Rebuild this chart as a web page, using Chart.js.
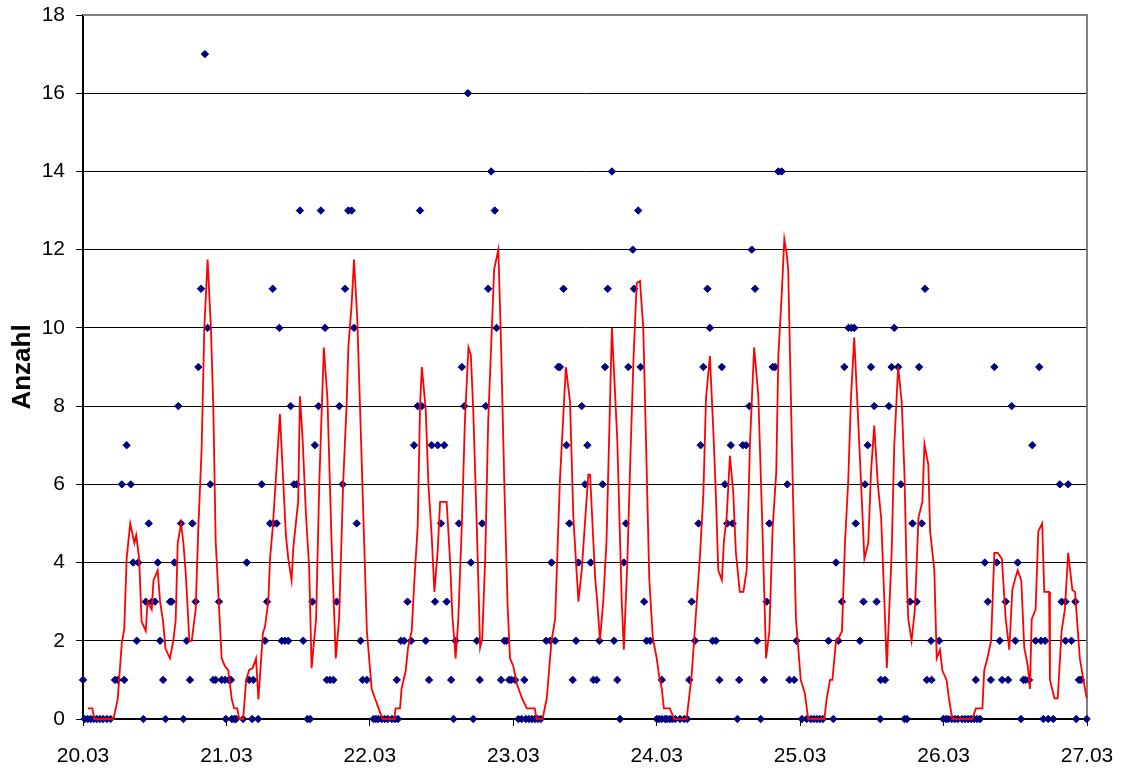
<!DOCTYPE html>
<html>
<head>
<meta charset="utf-8">
<script src="https://cdn.jsdelivr.net/npm/chart.js@4"></script>
<style>
  body { margin: 0; background: #fff; }
  #wrap { width: 1127px; height: 769px; }
</style>
</head>
<body>
<div id="wrap"><canvas id="chart" width="1127" height="769"></canvas></div>
<script>
// x axis runs in hours from 20.03 00:00
const dayLabels = ['20.03', '21.03', '22.03', '23.03', '24.03', '25.03', '26.03', '27.03'];

// single observations (Anzahl)
const pointHours = [
  0,0.3,0.8,1.3,1.8,2.3,2.8,3.35,4.0,4.6,5.35,5.8,6.5,6.9,7.3,8.0,8.4,9.0,9.25,10.1,
  10.5,11.0,11.5,12.05,12.5,12.9,13.4,13.8,14.55,14.85,15.3,15.95,16.4,16.8,17.35,17.9,18.3,18.85,19.3,19.75,
  20.4,20.85,21.3,21.8,22.2,22.75,23.2,23.75,23.9,
  24.4,24.75,24.9,25.3,25.6,26.8,27.4,27.8,28.3,28.5,29.3,29.9,30.45,30.8,31.3,31.75,31.85,32.4,32.85,33.25,
  33.8,34.35,34.75,35.3,35.75,36.3,36.85,37.55,38.0,38.4,38.8,39.4,39.8,40.5,40.8,41.35,41.9,42.45,42.9,43.45,
  43.85,44.4,44.95,45.35,45.8,46.45,46.8,47.5,48.6,49.0,49.4,
  50.0,50.5,51.0,51.7,52.2,52.5,52.7,53.2,53.75,54.3,54.9,55.4,56.0,56.4,56.7,57.35,57.9,58.35,58.9,59.35,
  59.9,60.45,60.85,61.6,62.0,62.35,62.9,63.4,63.8,64.4,64.9,65.3,65.9,66.4,66.8,67.4,67.8,68.3,68.9,69.2,
  69.95,70.5,70.9,71.3,71.7,72.3,72.85,73.4,73.85,
  74.1,74.6,75.1,75.6,76.1,76.6,77.5,78.2,78.4,79.0,79.5,79.8,80.4,80.9,81.4,81.95,82.5,82.9,83.45,84.0,
  84.4,84.95,85.4,85.95,86.4,86.95,87.35,87.8,88.5,88.85,89.4,89.85,90.5,90.85,91.25,92.0,92.2,92.9,93.3,93.9,
  94.3,94.9,96.0,96.4,96.85,96.85,
  97.4,97.7,98.2,98.6,99.1,99.9,100.6,101.1,101.45,101.85,102.4,103.0,103.35,103.8,104.5,104.9,105.35,105.9,106.5,106.9,
  107.4,107.8,108.4,108.7,109.5,109.8,110.4,110.95,111.5,111.9,112.45,112.8,113.4,113.95,114.4,114.85,115.4,115.8,116.35,116.9,
  117.85,118.2,119.0,119.4,120.3,121.1,
  121.8,122.3,122.8,123.3,123.8,124.75,125.55,126.0,126.4,127.0,127.4,128.1,128.6,129.05,129.3,130.0,130.6,130.85,131.3,131.85,
  132.4,132.8,133.4,133.5,134.2,134.85,135.3,135.75,136.4,136.85,137.45,137.85,138.4,138.8,139.5,139.9,140.35,140.9,141.2,141.9,
  142.0,143.25,143.95,144.8,
  144.4,145.4,145.9,146.4,147.1,147.6,148.1,148.6,149.1,149.4,149.6,150.1,150.9,151.4,151.9,152.5,152.9,153.4,153.8,154.4,
  154.8,155.4,156.0,156.4,156.95,157.35,157.7,158.3,158.85,159.4,160.0,160.3,160.7,161.0,161.5,162.35,163.45,163.75,164.4,164.4,
  164.85,165.4,166.05,166.2,166.65,167.0,167.95
];
const pointCounts = [
  1,0,0,0,0,0,0,0,0,0,1,1,6,1,7,6,4,2,4,0,
  3,5,3,3,4,2,1,0,3,3,4,8,5,0,2,1,5,3,9,11,
  17,10,6,1,1,3,1,1,0,
  1,1,0,0,0,0,4,1,0,1,0,6,2,3,5,11,5,5,10,2,
  2,2,8,6,6,13,2,0,0,3,7,8,13,10,1,1,1,3,8,6,
  11,13,13,10,5,2,1,1,0,0,0,
  0,0,0,0,0,1,0,2,2,3,2,7,8,13,8,2,1,7,3,7,
  5,7,3,1,0,2,5,9,8,16,4,0,2,1,5,8,11,14,13,10,
  1,2,2,1,1,1,0,0,1,
  0,0,0,0,0,0,2,2,4,2,9,9,11,7,5,1,2,4,8,6,
  7,4,1,1,2,6,9,11,14,2,1,0,4,5,9,12,11,13,9,3,
  2,2,0,0,1,0,
  0,0,0,0,0,0,0,0,1,3,2,5,7,9,11,10,2,2,1,9,
  6,5,7,5,0,1,7,7,8,12,11,2,0,1,3,5,9,9,14,14,
  6,1,1,2,0,0,
  0,0,0,0,0,2,0,4,2,3,9,10,10,10,5,2,3,6,7,9,
  8,3,0,1,1,8,9,10,9,6,0,0,3,5,3,9,5,11,1,2,
  1,2,0,0,
  0,0,0,0,0,0,0,0,0,1,0,0,4,3,1,9,4,2,1,3,
  1,8,2,4,0,1,1,1,7,2,9,2,0,2,0,0,6,3,3,2,
  6,2,3,0,1,1,0
];

// moving average line (red)
const avgHours = [
  0.8,1.55,1.9,5.1,5.8,6.5,6.9,7.3,7.9,8.6,8.9,9.4,9.8,10.5,10.8,11.5,11.8,12.5,12.9,13.4,
  13.8,14.55,15.1,15.5,15.85,16.4,16.8,17.2,17.8,18.2,18.85,19.3,19.85,20.3,20.85,21.4,21.8,22.2,23.2,23.75,
  24.3,24.9,25.3,25.8,26.15,26.8,27.3,27.8,28.4,28.95,29.35,30.1,30.45,31.0,31.3,31.75,32.4,32.95,33.5,33.95,
  34.35,34.9,35.2,36.0,36.3,36.75,37.3,37.85,38.25,39.0,39.55,40.3,40.9,41.6,42.3,42.85,43.55,44.1,44.4,44.95,
  45.35,45.9,46.35,46.9,47.5,48.3,48.85,49.55,50.1,52.1,52.3,53.05,53.3,54.0,54.4,55.0,55.45,56.0,56.4,56.7,
  57.35,57.8,58.35,58.8,59.35,59.75,60.85,61.4,61.8,62.35,62.8,63.4,63.9,64.5,64.9,65.3,65.9,66.45,66.8,67.3,
  67.8,68.8,69.5,69.95,70.5,71.05,71.45,72.0,72.6,73.4,74.25,75.6,75.9,76.9,77.6,78.4,79.0,79.8,80.8,81.5,
  82.05,82.9,83.45,84.55,84.85,85.7,86.05,86.5,87.05,87.6,88.5,89.4,90.15,90.5,91.1,91.55,92.1,92.65,93.2,93.75,
  94.2,94.75,95.35,96.0,96.45,96.85,97.2,98.2,98.9,101.0,101.85,102.6,103.25,103.8,104.25,104.9,105.5,105.9,106.3,106.9,
  107.25,107.7,108.25,108.8,109.25,109.9,110.5,111.05,111.6,112.3,113.0,113.75,114.3,114.85,115.4,116.0,116.35,116.9,117.35,117.75,
  118.0,118.75,119.3,120.1,120.8,121.35,124.05,124.45,125.0,125.4,126.0,126.4,127.0,127.5,128.05,128.5,129.05,129.6,130.2,130.75,
  131.4,131.85,132.4,133.0,133.55,134.1,134.5,135.3,135.75,136.4,137.0,137.45,137.85,138.1,138.65,139.2,139.8,140.45,140.8,141.45,
  141.75,142.45,142.85,143.4,143.8,144.5,144.9,145.45,148.8,149.4,150.5,150.8,151.4,151.95,152.5,153.05,153.75,154.4,155.0,155.5,
  156.0,156.4,157.0,157.5,158.1,158.45,158.75,159.4,159.85,160.5,160.85,161.65,161.8,162.55,163.1,163.75,164.3,164.85,165.55,166.0,
  166.8,167.4,167.95
];
const avgValues = [
  0.27,0.27,0,0,0.5,1.95,2.3,4.1,5.0,4.5,4.7,4.1,2.5,2.25,3.0,2.8,3.55,3.8,3.0,2.5,
  1.8,1.55,2.0,2.5,4.5,5.0,4.5,3.7,2.0,2.0,2.8,4.9,6.9,10,11.75,10,8,4.55,1.55,1.35,
  1.25,0.5,0.27,0.27,0,0,1.0,1.25,1.3,1.55,0.5,2.2,2.35,3.0,4.1,4.9,6.45,7.8,6.1,4.7,
  4.1,3.55,4.4,5.55,8.25,7.15,5.25,3.85,1.3,2.55,6.1,9.5,8.2,4.5,1.55,2.55,6.1,8.0,9.5,10.6,
  11.75,10.2,8.0,5.25,2.25,0.77,0.53,0.24,0,0,0.27,0.27,0.77,1.24,1.83,2.25,3.55,4.9,8.0,9.0,
  7.9,6.0,4.67,3.25,4.3,5.55,5.55,4.1,2.66,1.55,2.55,5.0,7.6,9.5,9.3,7.9,4.9,1.83,2.05,4.1,
  7.6,11.5,12.0,9.6,6.0,2.9,1.55,1.35,0.9,0.55,0.27,0.27,0,0,0.53,2.0,2.55,6.1,9.0,8.1,
  5.15,3.0,3.8,6.25,6.25,3.6,3.0,2.0,3.0,4.55,10.0,7.15,3.0,1.77,4.1,6.45,9.15,11.15,11.2,10.0,
  7.15,3.6,2.07,1.55,1.06,0.77,0.27,0.27,0,0,1.12,2.78,4.2,5.73,8.2,9.28,7.27,5.73,3.8,3.55,
  4.55,5.15,6.73,5.8,4.25,3.25,3.25,3.8,7.03,9.5,8.27,4.55,1.55,2.25,4.9,6.3,9.28,10.8,12.27,11.9,
  11.5,6.1,2.55,1.0,0.65,0,0,0.53,1.0,1.0,2.0,2.05,2.25,4.5,6.1,8.2,9.75,8.0,6.0,4.1,
  4.5,6.3,7.5,6.0,5.15,3.0,1.3,4.2,7.0,9.0,8.1,6.3,3.55,2.55,2.0,2.8,5.15,5.55,7.03,6.5,
  4.8,3.8,1.55,1.77,1.24,1.0,0.53,0,0,0.27,0.27,1.24,1.6,2.0,4.25,4.25,4.1,2.55,1.77,3.3,
  3.6,3.8,3.55,1.83,1.35,0.77,2.55,2.8,4.8,5.0,3.25,3.25,1.0,0.53,0.53,2.25,2.8,4.25,3.3,3.25,
  1.55,1.0,0.53
];

const FONT = 'Arial, "Liberation Sans", sans-serif';

// gray frame on top and right like the excel plot area
const frame = {
    id: 'frame',
    beforeDatasetsDraw(chart) {
        const { ctx, chartArea: a } = chart;
        ctx.save();
        ctx.strokeStyle = '#808080';
        ctx.lineWidth = 2;
        ctx.beginPath();
        ctx.moveTo(a.left, a.top);
        ctx.lineTo(a.right, a.top);
        ctx.lineTo(a.right, a.bottom);
        ctx.stroke();
        ctx.restore();
    }
};

const ctx = document.getElementById('chart').getContext('2d');
new Chart(ctx, {
    type: 'scatter',
    data: {
        datasets: [
            {
                label: 'Mittelwert',
                data: avgHours.map((h, i) => ({ x: h, y: avgValues[i] })),
                showLine: true,
                borderColor: '#ff0000',
                borderWidth: 1.8,
                pointRadius: 0,
                tension: 0,
                clip: false
            },
            {
                label: 'Anzahl',
                data: pointHours.map((h, i) => ({ x: h, y: pointCounts[i] })),
                pointStyle: 'rectRot',
                pointRadius: 3.7,
                backgroundColor: '#000080',
                borderColor: '#000080',
                borderWidth: 1,
                clip: false
            }
        ]
    },
    options: {
        responsive: false,
        animation: false,
        layout: { padding: { top: 15, right: 40, left: 0, bottom: 0 } },
        plugins: {
            legend: { display: false },
            tooltip: { enabled: false }
        },
        scales: {
            x: {
                type: 'linear',
                min: 0,
                max: 168,
                afterFit: s => {
                    s.height = 50;
                    s.paddingLeft = 0;
                    s.paddingRight = 0;
                },
                ticks: {
                    stepSize: 24,
                    maxRotation: 0,
                    padding: 18,
                    color: '#000',
                    font: { family: FONT, size: 21 },
                    callback: v => dayLabels[v / 24]
                },
                grid: { drawOnChartArea: false, color: '#000', tickLength: 7 },
                border: { color: '#000', width: 2 }
            },
            y: {
                min: 0,
                max: 18,
                afterFit: s => {
                    s.width = 83;
                    s.paddingTop = 0;
                    s.paddingBottom = 0;
                },
                ticks: {
                    stepSize: 2,
                    padding: 11,
                    color: '#000',
                    font: { family: FONT, size: 21 }
                },
                grid: { color: '#000', lineWidth: 1, tickLength: 7 },
                border: { color: '#000', width: 2 },
                title: {
                    display: true,
                    text: 'Anzahl',
                    color: '#000',
                    padding: { top: 7, bottom: 0 },
                    font: { family: FONT, size: 26, weight: 'bold' }
                }
            }
        }
    },
    plugins: [frame]
});
</script>
</body>
</html>
